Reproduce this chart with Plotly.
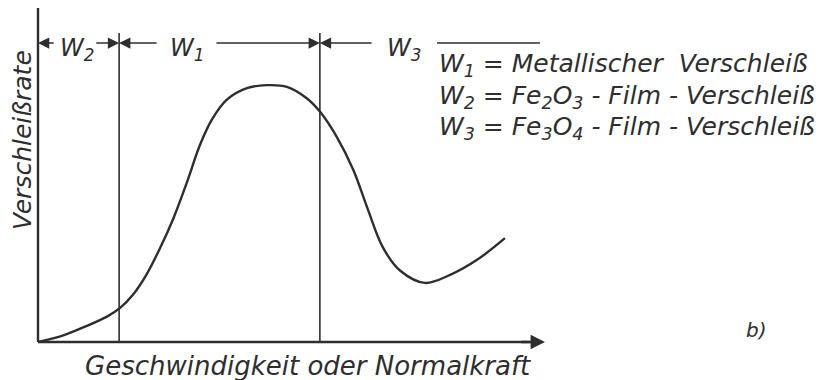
import plotly.graph_objects as go

# schematic wear curve (arbitrary units, 0..100 on both axes)
curve_x = [0, 5.0, 9.6, 13.6, 16.2, 18.8, 21.4, 24.1, 26.7, 29.3, 32.0, 34.3, 37.2,
           41.2, 45.1, 49.1, 53.0, 55.6, 58.9, 62.2, 64.9, 68.0, 71.4, 76.3, 81.3,
           86.6, 92.1]
curve_y = [0, 2.0, 4.8, 7.6, 10.2, 14.3, 20.2, 28.2, 37.0, 47.5, 59.2, 66.6, 72.5,
           76.0, 76.9, 76.4, 73.0, 69.0, 61.5, 51.5, 40.4, 28.4, 21.4, 17.7, 20.1,
           24.6, 31.1]

# zone boundaries and the dimension line above the plot
zone_bounds = [16.0, 55.6]
zone_top = 92.5
dim_y = 89.5
zone_labels = ["W<sub>2</sub>", "W<sub>1</sub>", "W<sub>3</sub>"]
zone_label_x = [7.6, 29.4, 72.2]
# (head, tail) pairs of the dimension arrows
dim_arrows = [(0, 3.4), (16.0, 11.2), (16.0, 23.7), (55.6, 34.9), (55.6, 66.1)]
dim_plain = (78.7, 99.0)

legend_lines = [
    "W<sub>1</sub> = Metallischer  Verschleiß",
    "W<sub>2</sub> = Fe<sub>2</sub>O<sub>3</sub> - Film - Verschleiß",
    "W<sub>3</sub> = Fe<sub>3</sub>O<sub>4</sub> - Film - Verschleiß",
]
legend_y = [83.0, 73.5, 64.2]

ink = "#2e2e2e"
font = dict(family="DejaVu Sans, sans-serif", color=ink, size=24, style="italic")

fig = go.Figure()

fig.add_trace(go.Scatter(x=curve_x, y=curve_y, mode="lines",
                         line=dict(color=ink, width=2.4, shape="spline", smoothing=1.0),
                         hoverinfo="skip"))

shapes = [
    dict(type="line", x0=0, y0=0, x1=0, y1=100, line=dict(color=ink, width=2.4)),
    dict(type="line", x0=0, y0=0, x1=97, y1=0, line=dict(color=ink, width=2.4)),
    dict(type="line", x0=dim_plain[0], y0=dim_y, x1=dim_plain[1], y1=dim_y,
         line=dict(color=ink, width=1.5)),
]
for b in zone_bounds:
    shapes.append(dict(type="line", x0=b, y0=0, x1=b, y1=zone_top,
                       line=dict(color=ink, width=1.6)))

annotations = [
    # x axis arrowhead
    dict(x=100, y=0, ax=95, ay=0, xref="x", yref="y", axref="x", ayref="y",
         text="", showarrow=True, arrowhead=2, arrowsize=1.2, arrowwidth=2.4,
         arrowcolor=ink),
]
for head, tail in dim_arrows:
    annotations.append(dict(x=head, y=dim_y, ax=tail, ay=dim_y, xref="x", yref="y",
                            axref="x", ayref="y", text="", showarrow=True,
                            arrowhead=2, arrowsize=1.5, arrowwidth=1.5,
                            arrowcolor=ink))
for lx, lt in zip(zone_label_x, zone_labels):
    annotations.append(dict(x=lx, y=dim_y - 2.0, text=lt, showarrow=False,
                            xref="x", yref="y", font=font))
for ly, lt in zip(legend_y, legend_lines):
    annotations.append(dict(x=78.7, y=ly, text=lt, showarrow=False, xanchor="left",
                            xref="x", yref="y", font=dict(font, size=25)))

annotations += [
    dict(x=-2.96, y=60.5, text="Verschleißrate", textangle=-90, showarrow=False,
         xref="x", yref="y", font=dict(font, size=25)),
    dict(x=53.2, y=-7.2, text="Geschwindigkeit oder Normalkraft", showarrow=False,
         xref="x", yref="y", font=dict(font, size=26)),
    dict(x=141.8, y=3.6, text="b)", showarrow=False, xref="x", yref="y",
         font=dict(font, size=20)),
]

fig.update_layout(
    width=832, height=380,
    margin=dict(l=0, r=0, t=0, b=0),
    paper_bgcolor="white", plot_bgcolor="white",
    showlegend=False,
    shapes=shapes,
    annotations=annotations,
    # ranges chosen so the page's 8px body margin lands the axes where the drawing has them
    xaxis=dict(range=[-5.917, 158.19], visible=False, fixedrange=True),
    yaxis=dict(range=[-13.77, 100], visible=False, fixedrange=True),
)

fig.write_html("out.html")
